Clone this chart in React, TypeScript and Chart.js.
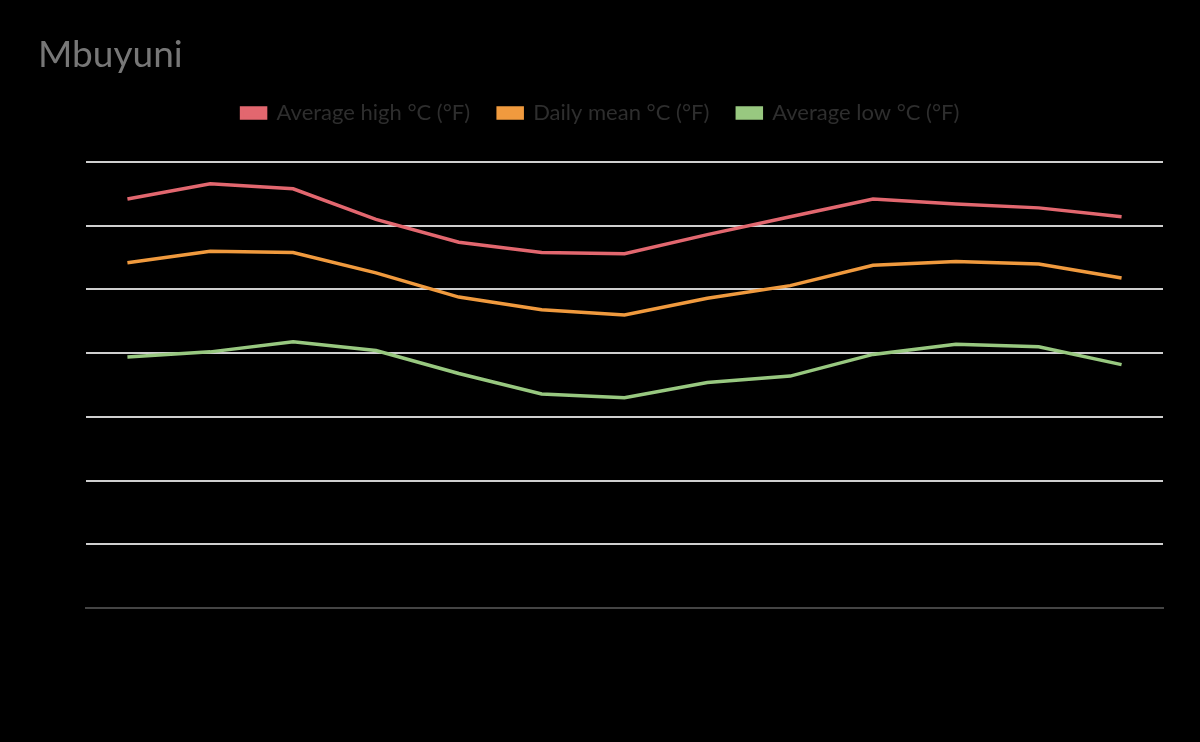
import React, { useEffect, useRef } from "react";
import { Chart, registerables } from "chart.js";

Chart.register(...registerables);

const categories = ["Jan", "Feb", "Mar", "Apr", "May", "Jun", "Jul", "Aug", "Sep", "Oct", "Nov", "Dec", "Year"];
const averageHigh = [32.1, 33.3, 32.9, 30.5, 28.7, 27.9, 27.8, 29.3, 30.7, 32.1, 31.7, 31.4, 30.7];
const dailyMean = [27.1, 28.0, 27.9, 26.3, 24.4, 23.4, 23.0, 24.3, 25.3, 26.9, 27.2, 27.0, 25.9];
const averageLow = [19.7, 20.1, 20.9, 20.2, 18.4, 16.8, 16.5, 17.7, 18.2, 19.9, 20.7, 20.5, 19.1];
const seriesLabels = ["Average high °C (°F)", "Daily mean °C (°F)", "Average low °C (°F)"];
const titleText = "Mbuyuni";

const legendMargin = {
  id: "legendMargin",
  beforeInit(chart: any) {
    const legend = chart.legend;
    if (!legend) return;
    const fit = legend.fit;
    legend.fit = function () {
      fit.call(this);
      this.height += 28;
    };
  },
};

export default function App() {
  const ref = useRef<HTMLCanvasElement>(null);
  useEffect(() => {
    document.body.style.margin = "0";
    document.body.style.background = "#000";
    const ctx = ref.current!;
    const chart = new Chart(ctx, {
      type: "line",
      data: {
        labels: categories,
        datasets: [
          { label: seriesLabels[0], data: averageHigh, borderColor: "#e2676f", backgroundColor: "#e2676f" },
          { label: seriesLabels[1], data: dailyMean, borderColor: "#f09a3e", backgroundColor: "#f09a3e" },
          { label: seriesLabels[2], data: averageLow, borderColor: "#98c880", backgroundColor: "#98c880" },
        ].map((d) => ({ ...d, borderWidth: 3.5, pointRadius: 0, tension: 0 })),
      },
      options: {
        responsive: false,
        animation: false,
        layout: { padding: { left: 38, right: 37, top: 0, bottom: 0 } },
        plugins: {
          title: {
            display: true,
            text: titleText,
            align: "start",
            color: "#777777",
            font: { family: "Lato", size: 37, weight: "normal", lineHeight: 1 },
            padding: { top: 36.5, bottom: 0.5 },
          },
          legend: {
            display: true,
            labels: {
              boxWidth: 24,
              boxHeight: 10,
              color: "#2e2e2e",
              font: { family: "Lato", size: 22 },
              padding: 28,
            },
          },
          tooltip: { enabled: false },
        },
        scales: {
          x: {
            offset: true,
            grid: { display: false, drawTicks: false },
            border: { color: "#444444", width: 2 },
            ticks: { color: "#000000", font: { family: "Lato", size: 16 } },
            afterFit: (s: any) => { s.height = 134; },
          },
          y: {
            min: 0,
            max: 35,
            ticks: { stepSize: 5, color: "#000000", font: { family: "Lato", size: 16 } },
            grid: { color: "#cfcfcf", lineWidth: 2, drawTicks: false },
            border: { display: false },
            afterFit: (s: any) => { s.width = 48; },
          },
        },
      },
      plugins: [legendMargin],
    });
    return () => chart.destroy();
  }, []);
  return (
    <div style={{ width: 1200, height: 742, background: "#000" }}>
      <canvas ref={ref} width={1200} height={742} style={{ display: "block" }} />
    </div>
  );
}
